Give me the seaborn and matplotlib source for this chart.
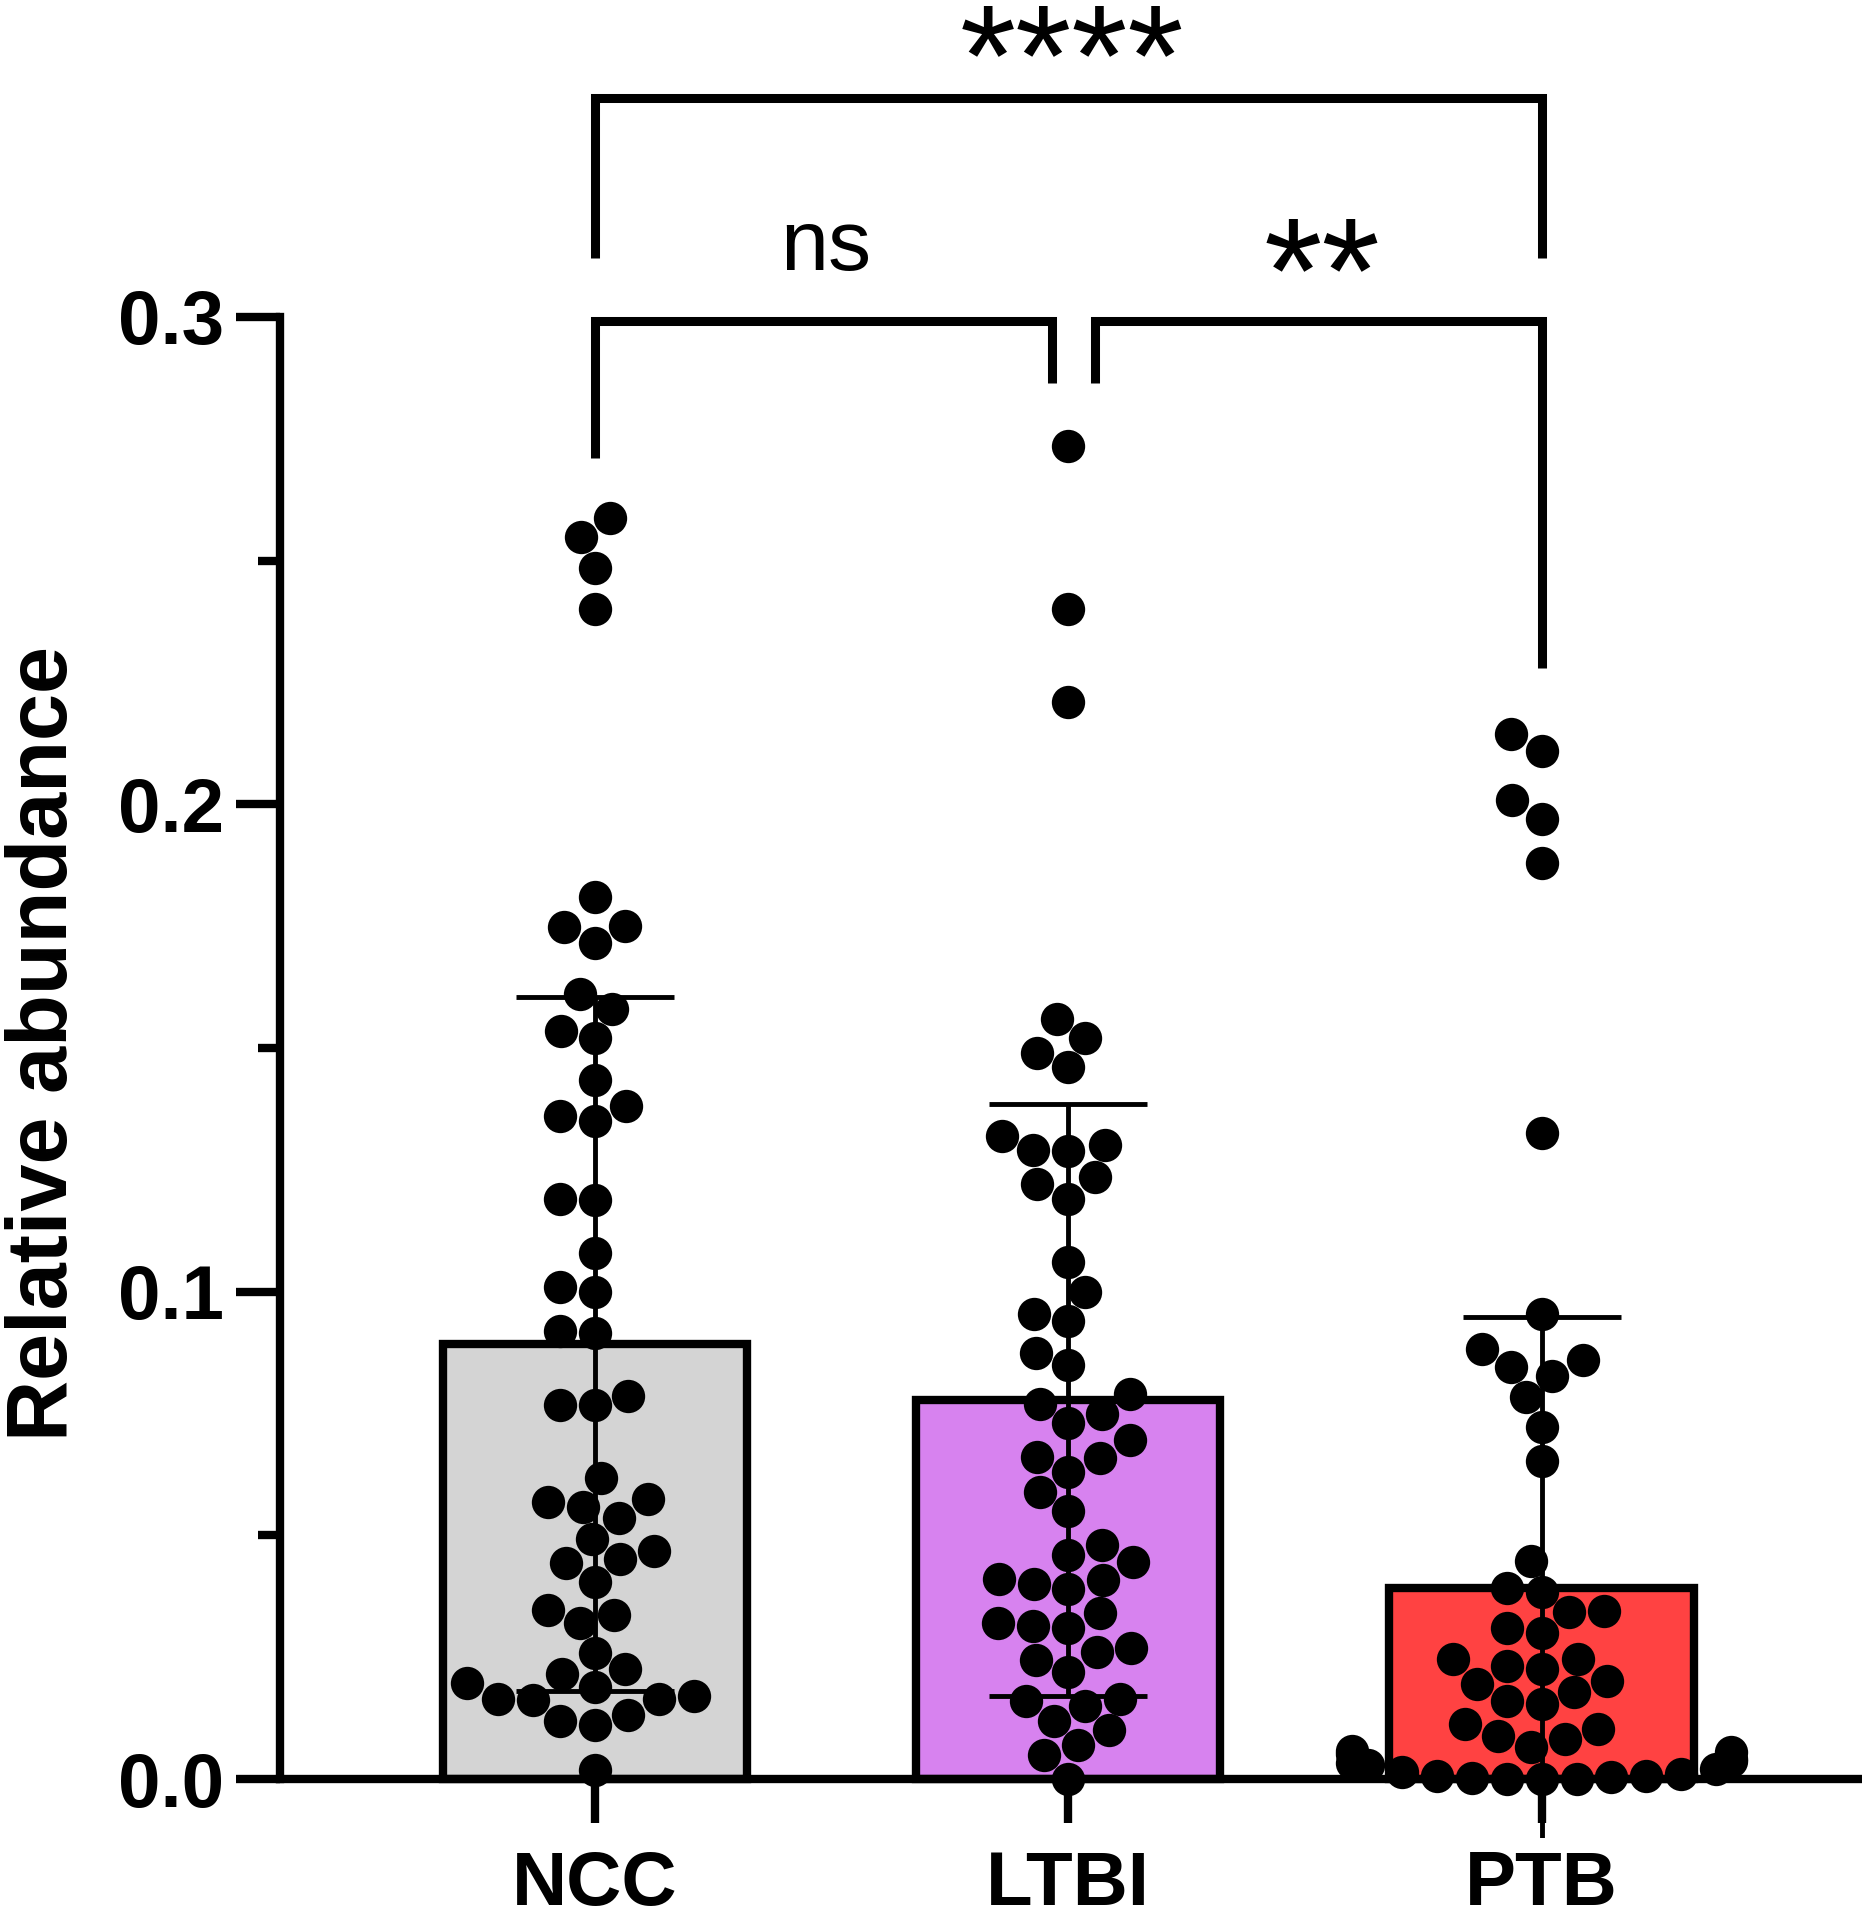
import matplotlib
matplotlib.use("Agg")
import matplotlib.pyplot as plt
import seaborn as sns
import pandas as pd
import numpy as np
from matplotlib.ticker import FixedLocator

# groups and colours
groups = ["NCC", "LTBI", "PTB"]
bar_colors = ["#d4d4d4", "#d782ef", "#ff4242"]

# individual samples (relative abundance)
ncc_values = [0.2588, 0.2548, 0.2485, 0.2400, 0.1810, 0.1750, 0.1748, 0.1715,
              0.1610, 0.1580, 0.1535, 0.1520, 0.1435, 0.1380, 0.1360, 0.1350,
              0.1190, 0.1188, 0.1080, 0.1010, 0.1000, 0.0919, 0.0915, 0.0786,
              0.0767, 0.0767, 0.0617, 0.0574, 0.0568, 0.0558, 0.0535, 0.0492,
              0.0468, 0.0451, 0.0443, 0.0404, 0.0347, 0.0336, 0.0320, 0.0258,
              0.0225, 0.0215, 0.0197, 0.0189, 0.0170, 0.0164, 0.0164, 0.0162,
              0.0131, 0.0119, 0.0111, 0.0018]
ltbi_values = [0.2735, 0.2400, 0.2210, 0.1560, 0.1520, 0.1490, 0.1460, 0.1320,
               0.1300, 0.1290, 0.1288, 0.1235, 0.1220, 0.1190, 0.1060, 0.1000,
               0.0955, 0.0940, 0.0875, 0.0850, 0.0790, 0.0770, 0.0750, 0.0730,
               0.0695, 0.0660, 0.0658, 0.0630, 0.0590, 0.0550, 0.0480, 0.0460,
               0.0445, 0.0410, 0.0408, 0.0400, 0.0390, 0.0340, 0.0320, 0.0315,
               0.0310, 0.0270, 0.0260, 0.0245, 0.0220, 0.0165, 0.0160, 0.0150,
               0.0120, 0.0100, 0.0070, 0.0050, 0.0000]
ptb_values = [0.2145, 0.2110, 0.2008, 0.1970, 0.1880, 0.1325, 0.0954, 0.0882,
              0.0859, 0.0845, 0.0828, 0.0783, 0.0722, 0.0653, 0.0448, 0.0393,
              0.0383, 0.0345, 0.0342, 0.0311, 0.0300, 0.0246, 0.0246, 0.0233,
              0.0226, 0.0202, 0.0195, 0.0178, 0.0160, 0.0154, 0.0113, 0.0103,
              0.0089, 0.0082, 0.0065, 0.0058, 0.0055, 0.0051, 0.0041, 0.0038,
              0.0034, 0.0030, 0.0020, 0.0014, 0.0010, 0.0007, 0.0007, 0.0005,
              0.0003, 0.0000, 0.0000, 0.0000]

# bar height = mean, whiskers = SD (as drawn in the original)
group_means = [0.0892, 0.0778, 0.0392]
group_sds = [0.0712, 0.0607, 0.0556]

# significance labels
sig_labels = ["ns", "**", "****"]

sns.set_style("ticks", {"axes.edgecolor": "black", "text.color": "black",
                        "xtick.color": "black", "ytick.color": "black",
                        "axes.labelcolor": "black"})
plt.rcParams["font.family"] = ["Liberation Sans", "DejaVu Sans"]

fig = plt.figure(figsize=(18.62, 19.11), dpi=100)
ax = fig.add_axes([0.1504, 0.0384, 0.8496, 0.9616])

summary = pd.DataFrame({"group": groups, "mean": group_means, "sd": group_sds})
sns.barplot(data=summary, x="group", y="mean", hue="group", order=groups,
            palette=bar_colors, saturation=1, width=0.643, edgecolor="black",
            linewidth=6, errorbar=None, legend=False, ax=ax, zorder=1)

xpos = np.arange(len(groups))
ax.errorbar(xpos, summary["mean"], yerr=summary["sd"], fmt="none",
            ecolor="black", elinewidth=3.5, capsize=57, capthick=3.5, zorder=3)

points = pd.DataFrame({
    "group": np.repeat(groups, [len(ncc_values), len(ltbi_values), len(ptb_values)]),
    "value": ncc_values + ltbi_values + ptb_values,
})

ax.set_xlim(-0.665, 2.677)
ax.set_ylim(-0.012, 0.365)

sns.swarmplot(data=points, x="group", y="value", order=groups, color="black",
              size=24, ax=ax, zorder=4)
ax.set_xlim(-0.665, 2.677)
ax.set_ylim(-0.012, 0.365)

# axes styling
sns.despine(ax=ax)
ax.spines["left"].set_bounds(0, 0.3)
ax.spines["bottom"].set_position(("data", 0))
for side in ["left", "bottom"]:
    ax.spines[side].set_linewidth(6)

ax.set_yticks([0, 0.1, 0.2, 0.3])
ax.set_yticklabels(["0.0", "0.1", "0.2", "0.3"])
ax.yaxis.set_minor_locator(FixedLocator([0.05, 0.15, 0.25]))
ax.tick_params(axis="y", which="major", length=32, width=6, pad=8, labelsize=55)
ax.tick_params(axis="y", which="minor", length=16, width=6)
ax.tick_params(axis="x", which="major", length=32, width=6, pad=19, labelsize=55)
for lbl in ax.get_xticklabels() + ax.get_yticklabels():
    lbl.set_fontweight("bold")

ax.set_xlabel("")
ax.set_ylabel("Relative abundance", fontsize=61, fontweight="bold")
ax.yaxis.set_label_coords(-0.123, 0.432)

# significance brackets
bk = dict(color="black", lw=6.5, solid_capstyle="butt", solid_joinstyle="miter")
ax.plot([0, 0, 0.966, 0.966], [0.271, 0.2991, 0.2991, 0.2865], **bk)
ax.plot([1.057, 1.057, 2, 2], [0.2865, 0.2991, 0.2991, 0.228], **bk)
ax.plot([0, 0, 2, 2], [0.312, 0.3448, 0.3448, 0.312], **bk)

ax.text(0.487, 0.3096, sig_labels[0], ha="center", va="baseline", fontsize=62)
ax.text(1.537, 0.2989, sig_labels[1], ha="center", va="baseline", fontsize=108)
ax.text(1.008, 0.3434, sig_labels[2], ha="center", va="baseline", fontsize=104)

fig.savefig("out.png", dpi=100)
